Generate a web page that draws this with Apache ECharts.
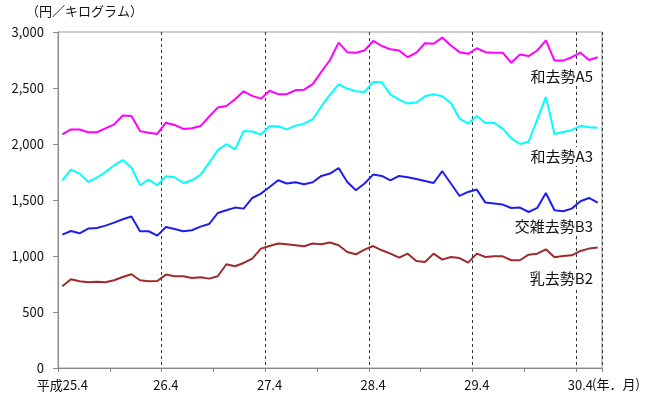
<!DOCTYPE html>
<html>
<head>
<meta charset="utf-8">
<script src="https://cdn.jsdelivr.net/npm/echarts@6/dist/echarts.min.js"></script>
<style>
  html, body { margin: 0; padding: 0; background: #fff; }
  #chart { width: 654px; height: 394px; }
</style>
</head>
<body>
<div id="chart"></div>
<script>
// Monthly categories, 平成25年4月 .. 平成30年6月
const categories = [];
for (let y = 25; y <= 30; y++) {
  for (let m = 1; m <= 12; m++) {
    if ((y === 25 && m < 4) || (y === 30 && m > 6)) continue;
    categories.push(y + '.' + m);
  }
}

// Labels shown under the April ticks
const tickLabels = {
  '25.4': '平成25.4',
  '26.4': '26.4',
  '27.4': '27.4',
  '28.4': '28.4',
  '29.4': '29.4',
  '30.4': '30.4'
};

// 円／キログラム
const wagyuA5 = [2085, 2130, 2130, 2105, 2105, 2140, 2175, 2255, 2250, 2115, 2100, 2090,
  2190, 2170, 2135, 2140, 2160, 2245, 2325, 2340, 2400, 2470, 2430, 2405,
  2475, 2445, 2445, 2480, 2485, 2535, 2645, 2750, 2905, 2820, 2815, 2835,
  2920, 2875, 2845, 2835, 2775, 2815, 2900, 2895, 2950, 2880, 2820, 2805,
  2855, 2820, 2815, 2815, 2725, 2800, 2785, 2835, 2925, 2745, 2745, 2775,
  2815, 2750, 2775];

const wagyuA3 = [1676, 1772, 1736, 1661, 1700, 1750, 1810, 1857, 1790, 1632, 1682, 1632,
  1712, 1703, 1652, 1676, 1724, 1832, 1945, 1998, 1952, 2115, 2112, 2085,
  2158, 2158, 2131, 2164, 2182, 2221, 2337, 2441, 2533, 2495, 2471, 2465,
  2554, 2551, 2441, 2397, 2361, 2370, 2426, 2444, 2426, 2366, 2227, 2182,
  2250, 2188, 2188, 2138, 2050, 2000, 2020, 2220, 2420, 2090, 2108, 2123,
  2162, 2150, 2145];

const crossB3 = [1191, 1223, 1203, 1245, 1250, 1271, 1298, 1328, 1352, 1221, 1221, 1182,
  1259, 1241, 1221, 1230, 1262, 1285, 1384, 1408, 1432, 1423, 1518, 1557,
  1616, 1676, 1647, 1658, 1640, 1658, 1715, 1736, 1786, 1661, 1587, 1647,
  1727, 1715, 1676, 1715, 1703, 1688, 1670, 1652, 1757, 1647, 1536, 1572,
  1593, 1477, 1468, 1459, 1429, 1432, 1393, 1429, 1563, 1408, 1399, 1423,
  1489, 1518, 1477];

const dairyB2 = [730, 792, 774, 765, 771, 765, 783, 813, 837, 783, 774, 777,
  834, 819, 819, 804, 810, 798, 819, 926, 908, 938, 977, 1066,
  1089, 1111, 1105, 1096, 1087, 1111, 1105, 1120, 1096, 1036, 1015, 1057,
  1089, 1051, 1021, 986, 1021, 956, 947, 1021, 968, 991, 982, 941,
  1021, 991, 997, 997, 962, 962, 1012, 1021, 1060, 988, 1000, 1006,
  1045, 1066, 1075];

const seriesNames = ['和去勢A5', '和去勢A3', '交雑去勢B3', '乳去勢B2'];
const seriesData = [wagyuA5, wagyuA3, crossB3, dairyB2];
const seriesColors = ['#FF00FF', '#00FFFF', '#1E1EF0', '#9C2B2B'];

const FONT = '"Noto Sans CJK JP", "Noto Sans", sans-serif';

const chart = echarts.init(document.getElementById('chart'), null, { renderer: 'canvas' });

// Series names placed at the right end, next to each line
const nameLabels = [
  { text: seriesNames[0], y: 78 },
  { text: seriesNames[1], y: 158 },
  { text: seriesNames[2], y: 228 },
  { text: seriesNames[3], y: 280 }
].map(o => ({
  type: 'text',
  right: 59,
  top: o.y - 11,
  z: 100,
  style: {
    text: o.text,
    font: '15px ' + FONT,
    fill: '#111',
    backgroundColor: '#fff',
    padding: [2, 2, 2, 3]
  }
}));

chart.setOption({
  animation: false,
  backgroundColor: '#fff',
  grid: {
    left: 58, right: 52, top: 32, bottom: 26,
    show: true, borderColor: '#999', borderWidth: 1
  },
  xAxis: {
    type: 'category',
    data: categories,
    boundaryGap: true,
    axisLine: { lineStyle: { color: '#888', width: 1 } },
    axisTick: { show: true, interval: 5, length: 4, lineStyle: { color: '#888' } },
    axisLabel: {
      interval: 11,
      margin: 11,
      fontSize: 13,
      fontFamily: FONT,
      color: '#111',
      formatter: v => tickLabels[v] || ''
    },
    splitLine: {
      show: true,
      interval: 11,
      lineStyle: { color: '#333', width: 1, type: [3, 3] }
    }
  },
  yAxis: {
    type: 'value',
    min: 0, max: 3000, interval: 500,
    axisLine: { show: true, lineStyle: { color: '#888', width: 1 } },
    axisTick: { show: true, length: 5, lineStyle: { color: '#888' } },
    splitLine: { show: false },
    axisLabel: {
      margin: 14,
      fontSize: 13,
      fontFamily: FONT,
      color: '#111',
      formatter: v => v.toLocaleString('en-US')
    }
  },
  series: seriesData.map((d, i) => ({
    name: seriesNames[i],
    type: 'line',
    data: d,
    symbol: 'none',
    lineStyle: { color: seriesColors[i], width: 2 },
    itemStyle: { color: seriesColors[i] }
  })),
  graphic: [
    {
      type: 'text', left: 26, top: 5,
      style: { text: '（円／キログラム）', font: '13px ' + FONT, fill: '#111' }
    },
    {
      type: 'text', left: 592, top: 378,
      style: { text: '(年．月)', font: '13px ' + FONT, fill: '#111' }
    }
  ].concat(nameLabels)
});
</script>
</body>
</html>
